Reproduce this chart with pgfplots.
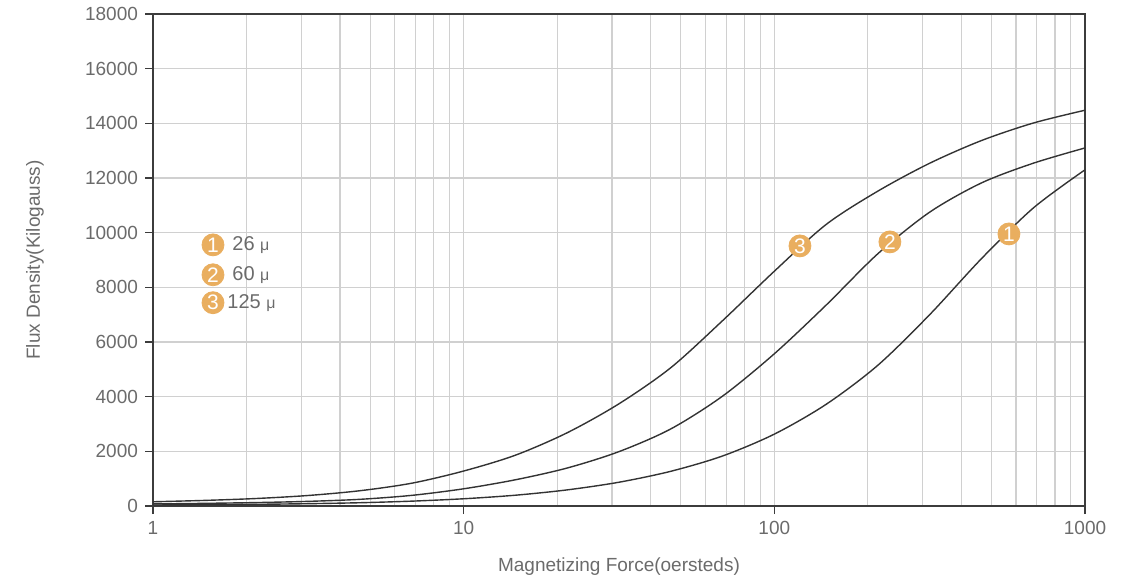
\documentclass[border=0pt]{standalone}
\usepackage{fontspec}
\setmainfont{Liberation Sans}
\usepackage{pgfplots}
\pgfplotsset{compat=1.18}
\usepackage{pgfplotstable}

\definecolor{curve}{HTML}{333333}
\definecolor{gridc}{HTML}{D0D0D0}
\definecolor{axisc}{HTML}{3C3C3C}
\definecolor{labelc}{HTML}{6B6B6B}
\definecolor{badge}{HTML}{E9AE5F}

% 26 mu
\pgfplotstableread{
x y
1 37
1.468 47
2.154 62
3.162 85
4.642 120
6.813 178
10 265
14.68 395
21.54 590
31.62 870
46.42 1270
68.13 1830
100 2630
146.8 3720
215.4 5150
316.2 7000
464.2 9050
681.3 10900
1000 12300
}\curveone

% 60 mu
\pgfplotstableread{
x y
1 75
1.468 97
2.154 126
3.162 170
4.642 245
6.813 390
10 630
14.68 960
21.54 1390
31.62 1990
46.42 2820
68.13 4020
100 5570
146.8 7350
215.4 9230
316.2 10750
464.2 11820
681.3 12540
1000 13100
}\curvetwo

% 125 mu
\pgfplotstableread{
x y
1 155
1.468 205
2.154 275
3.162 385
4.642 560
6.813 835
10 1280
14.68 1860
21.54 2680
31.62 3740
46.42 5060
68.13 6780
100 8590
146.8 10300
215.4 11520
316.2 12540
464.2 13370
681.3 14010
1000 14480
}\curvethree

\newcommand{\mus}{{\fontsize{8}{9}\selectfont μ}}

\begin{document}
\begin{tikzpicture}
\begin{axis}[
    width=466pt, height=246pt, scale only axis,
    xmode=log, xmin=1, xmax=1000, ymin=0, ymax=18000,
    xtick={1,10,100,1000},
    ytick={0,2000,...,18000},
    scaled y ticks=false,
    log ticks with fixed point,
    grid=both,
    major grid style={gridc, line width=0.6pt},
    minor grid style={gridc, line width=0.6pt},
    axis line style={axisc, line width=0.75pt},
    tick style={axisc, line width=0.75pt},
    major tick length=4pt, minor tick length=0pt,
    tick align=outside, tick pos=left,
    ticklabel style={font=\fontsize{9.5}{11}\selectfont, text=labelc},
    /pgf/number format/1000 sep={},
    /pgf/number format/assume math mode=true,
    every axis x label/.style={at={(axis description cs:0.5,-0.124)}, anchor=center},
    every axis y label/.style={at={(axis description cs:-0.1266,0.5)}, anchor=center, rotate=90},
    label style={font=\fontsize{9.5}{11}\selectfont, text=labelc},
    xlabel={Magnetizing Force(oersteds)},
    ylabel={Flux Density(Kilogauss)},
]
\addplot[curve, line width=0.7pt, smooth] table {\curveone};
\addplot[curve, line width=0.7pt, smooth] table {\curvetwo};
\addplot[curve, line width=0.7pt, smooth] table {\curvethree};

\addplot[only marks, mark=*, mark size=5.5pt, mark options={draw=badge, fill=badge},
    nodes near coords, point meta=explicit symbolic,
    nodes near coords style={anchor=center, text=white, font=\fontsize{10.5}{10.5}\selectfont}]
    coordinates {(569,9954)[1] (235.5,9662)[2] (120.9,9516)[3]
                 (1.56,9553)[1] (1.56,8459)[2] (1.56,7438)[3]};

\node[anchor=west, text=labelc, font=\fontsize{10}{11}\selectfont, inner sep=0pt]
    at ([xshift=9.5pt]axis cs:1.56,9553) {26 \mus};
\node[anchor=west, text=labelc, font=\fontsize{10}{11}\selectfont, inner sep=0pt]
    at ([xshift=9.5pt]axis cs:1.56,8459) {60 \mus};
\node[anchor=west, text=labelc, font=\fontsize{10}{11}\selectfont, inner sep=0pt]
    at ([xshift=7pt]axis cs:1.56,7438) {125 \mus};
\end{axis}
\path (current axis.south west) ++(-76.5pt,-39pt) coordinate (bbA);
\path (current axis.north east) ++(23.5pt,7pt) coordinate (bbB);
\path (bbA) rectangle (bbB);
\end{tikzpicture}
\end{document}
